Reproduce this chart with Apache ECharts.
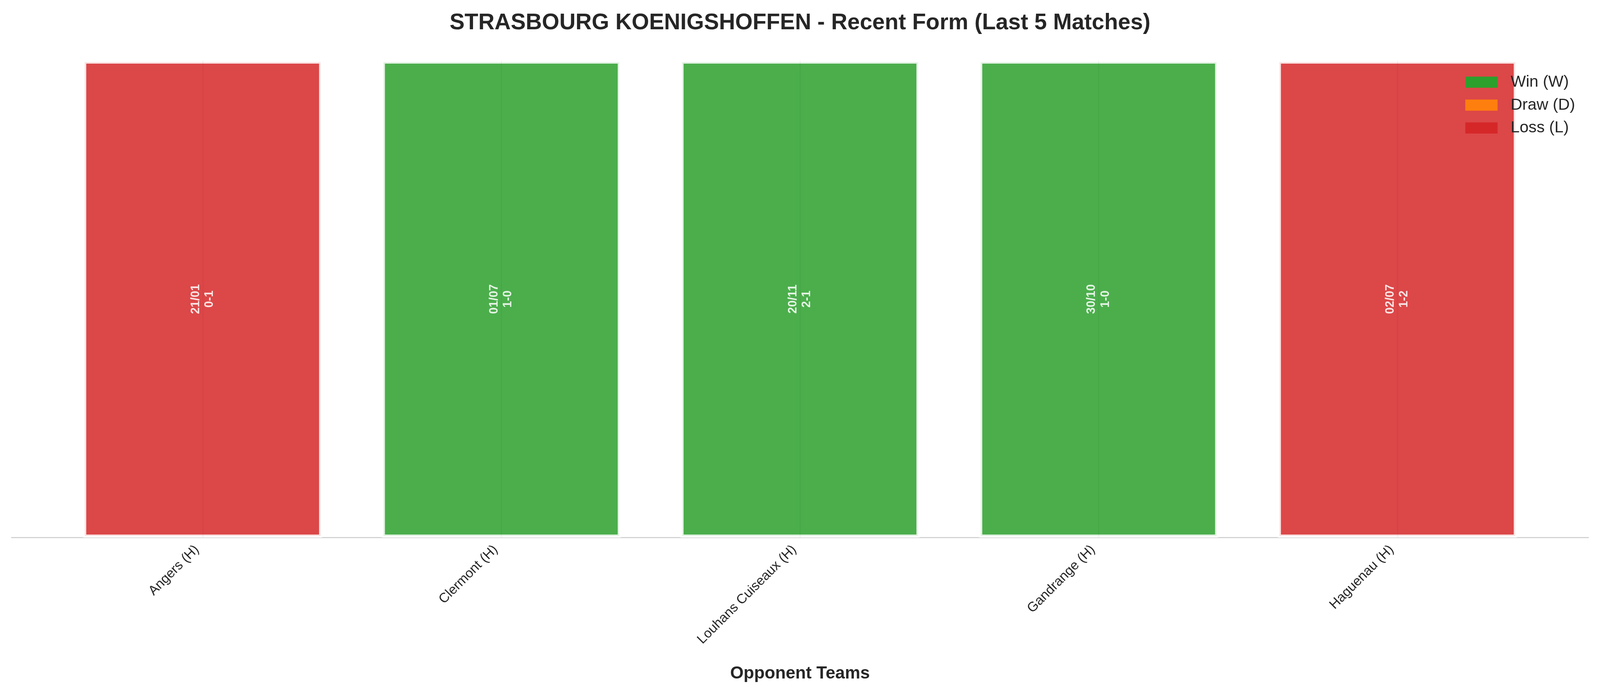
<!DOCTYPE html>
<html>
<head>
<meta charset="utf-8">
<script src="https://cdn.jsdelivr.net/npm/echarts@6/dist/echarts.min.js"></script>
<style>
    html, body {margin: 0; padding: 0; background: #fff; overflow: hidden;}
    #main {width: 100vw; height: 100vh;}
</style>
</head>
<body>
<div id="main"></div>
<script>
    // match data (oldest -> newest, as on the chart)
    var opponents = ['Angers (H)', 'Clermont (H)', 'Louhans Cuiseaux (H)', 'Gandrange (H)', 'Haguenau (H)'];
    var dates = ['21/01', '01/07', '20/11', '30/10', '02/07'];
    var scores = ['0-1', '1-0', '2-1', '1-0', '1-2'];
    var results = ['L', 'W', 'W', 'W', 'L'];
    var barValues = [1, 1, 1, 1, 1];

    var resultNames = {W: 'Win (W)', D: 'Draw (D)', L: 'Loss (L)'};
    var resultColors = {W: '#2ca02c', D: '#ff7f0e', L: '#d62728'};
    var resultOrder = ['W', 'D', 'L'];

    var FONT = 'Liberation Sans, Arial, Helvetica, sans-serif';

    var box = document.getElementById('main');
    var W = box.clientWidth || 4170, H = box.clientHeight || 1770;
    // layout was measured on a 4170x1770 picture, scale it to the real box
    var sx = W / 4170, sy = H / 1770, s = Math.min(sx, sy);

    var gridLeft = 30 * sx, gridRight = 30 * sx;
    var unitPx = (W - gridLeft - gridRight) / 5.28;

    var chart = echarts.init(box);

    //one series per result so the legend shows W / D / L
    var series = resultOrder.map(function (r) {
        var data = [];
        var centerLines = [];
        for (var i = 0; i < opponents.length; i++) {
            if (results[i] === r) {
                data.push([i, barValues[i]]);
                //faint grid line seen through the bar
                centerLines.push([{coord: [i, 0]}, {coord: [i, barValues[i]]}]);
            }
        }
        return {
            name: resultNames[r],
            type: 'bar',
            data: data,
            barWidth: unitPx * 0.8,
            barGap: '-100%',
            itemStyle: {
                color: resultColors[r],
                opacity: 0.85,
                borderColor: '#ffffff',
                borderWidth: 8 * s
            },
            label: {
                show: true,
                position: 'inside',
                rotate: 90,
                align: 'center',
                verticalAlign: 'middle',
                color: '#ffffff',
                fontFamily: FONT,
                fontWeight: 'bold',
                fontSize: 31 * s,
                lineHeight: 36 * s,
                formatter: function (p) {
                    var idx = p.value[0];
                    return dates[idx] + '\n' + scores[idx];
                }
            },
            markLine: {
                silent: true,
                symbol: ['none', 'none'],
                label: {show: false},
                lineStyle: {color: 'rgba(0,0,0,0.035)', width: 3 * s, type: 'solid'},
                data: centerLines
            }
        };
    });

    var option = {
        backgroundColor: '#ffffff',
        animation: false,
        title: {
            text: 'STRASBOURG KOENIGSHOFFEN - Recent Form (Last 5 Matches)',
            left: 'center',
            top: 31 * sy,
            padding: 0,
            textStyle: {
                fontFamily: FONT,
                fontWeight: 'bold',
                fontSize: 58.5 * s,
                color: '#262626'
            }
        },
        legend: {
            orient: 'vertical',
            left: 3819 * sx,
            top: 190 * sy,
            padding: 0,
            itemWidth: 84 * s,
            itemHeight: 29 * s,
            itemGap: 18 * s,
            icon: 'rect',
            data: resultOrder.map(function (r) {
                return {name: resultNames[r], itemStyle: {opacity: 1, borderWidth: 0}};
            }),
            textStyle: {
                fontFamily: FONT,
                fontSize: 42 * s,
                color: '#262626',
                padding: [0, 0, 0, 29 * s]
            }
        },
        grid: {
            left: gridLeft,
            right: gridRight,
            top: 94 * sy,
            bottom: 393 * sy,
            containLabel: false
        },
        xAxis: {
            type: 'value',
            min: -0.64,
            max: 4.64,
            name: 'Opponent Teams',
            nameLocation: 'middle',
            nameGap: 327 * sy,
            nameTextStyle: {
                fontFamily: FONT,
                fontWeight: 'bold',
                fontSize: 45 * s,
                color: '#262626'
            },
            axisLine: {show: true, lineStyle: {color: '#cccccc', width: 2.5 * s}},
            axisTick: {show: false},
            splitLine: {show: false},
            axisLabel: {
                rotate: 45,
                margin: 11 * s,
                padding: [0, 21 * s, 0, 0],
                fontFamily: FONT,
                fontSize: 35 * s,
                color: '#262626',
                showMinLabel: false,
                showMaxLabel: false,
                formatter: function (v) {
                    return Number.isInteger(v) && opponents[v] ? opponents[v] : '';
                }
            }
        },
        yAxis: {
            type: 'value',
            min: 0,
            max: 1.05,
            show: false
        },
        series: series
    };

    chart.setOption(option);
</script>
</body>
</html>
